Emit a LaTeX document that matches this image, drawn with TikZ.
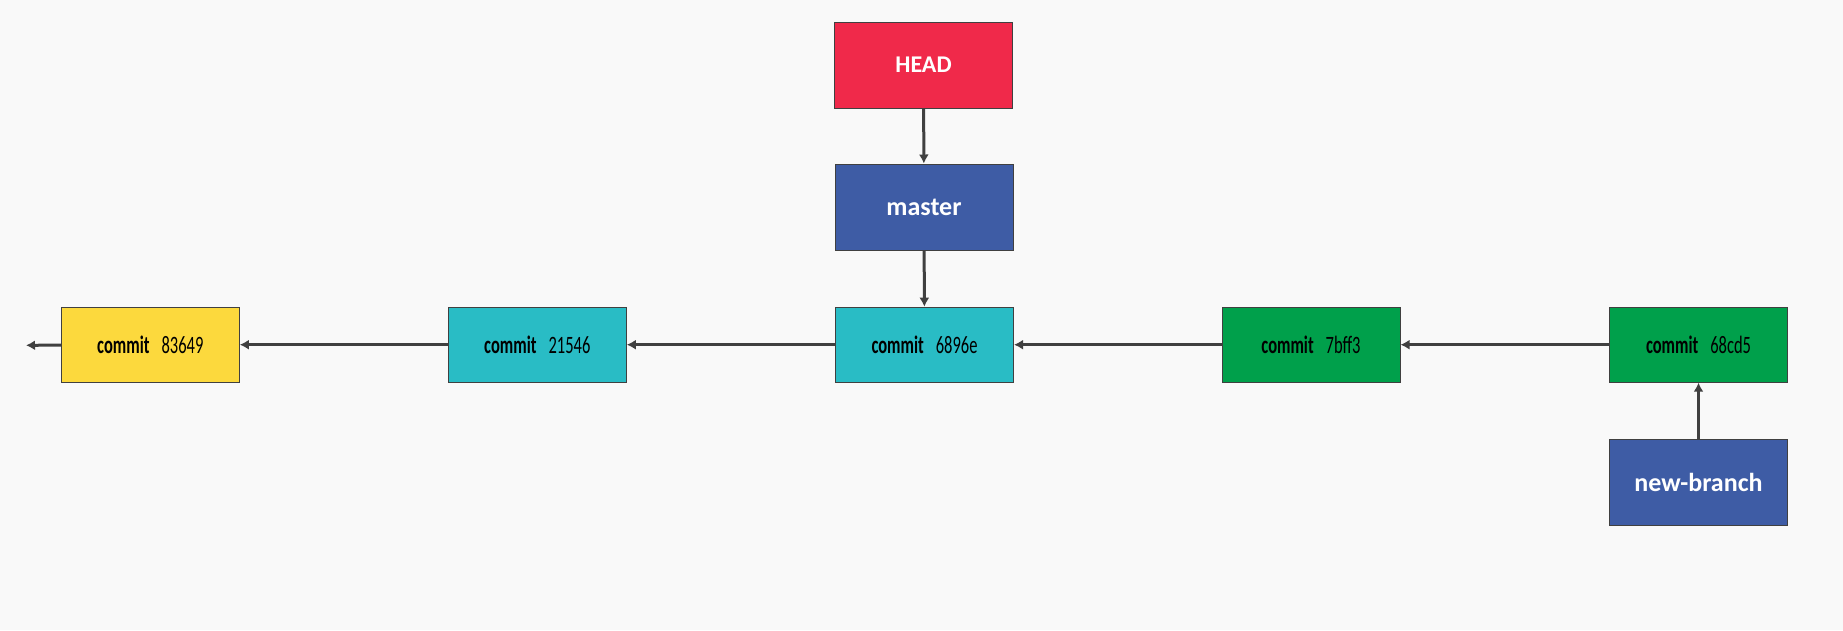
\documentclass[tikz,border=0pt]{standalone}
\usepackage{fontspec}
\setmainfont{Carlito}
\newfontfamily\condfont[FakeStretch=0.66]{Carlito}
\usetikzlibrary{arrows.meta}
\definecolor{bgc}{HTML}{F9F9F9}
\definecolor{headred}{HTML}{F0294A}
\definecolor{branchblue}{HTML}{3E5CA5}
\definecolor{tealc}{HTML}{29BCC5}
\definecolor{greenc}{HTML}{00A04B}
\definecolor{yellowc}{HTML}{FCD93D}
\definecolor{edgec}{HTML}{404040}
\tikzset{
  refbox/.style={draw=edgec, line width=1pt, minimum width=178pt, minimum height=86pt, inner sep=0pt,
    text=white, font=\fontsize{26}{30}\selectfont\bfseries},
  commitbox/.style={draw=edgec, line width=1pt, minimum width=178pt, minimum height=75pt, inner sep=0pt,
    text=black, font=\condfont\fontsize{25}{28}\selectfont},
  link/.style={draw=edgec, line width=3pt, -{Latex[length=9pt,width=10pt]}}
}
\newcommand{\cmlabel}[1]{{\bfseries commit}\hspace{12pt}#1\hspace{10pt}}
\begin{document}
\begin{tikzpicture}[x=1pt,y=-1pt]
\fill[bgc] (0,0) rectangle (1843,630);
\useasboundingbox (0,0) rectangle (1843,630);
\node[refbox, fill=headred, font=\fontsize{24}{28}\selectfont\bfseries] (head) at (923.5,65) {HEAD};
\node[refbox, fill=branchblue] (master) at (924,207) {master};
\node[commitbox, fill=tealc] (c6896e) at (924.5,344.7) {\cmlabel{6896e}};
\node[commitbox, fill=yellowc] (c83649) at (150.3,344.7) {\cmlabel{83649}};
\node[commitbox, fill=tealc] (c21546) at (537.3,344.7) {\cmlabel{21546}};
\node[commitbox, fill=greenc] (c7bff3) at (1311,344.7) {\cmlabel{7bff3}};
\node[commitbox, fill=greenc] (c68cd5) at (1698.5,344.7) {\cmlabel{68cd5}};
\node[refbox, fill=branchblue] (newbranch) at (1698.5,482.7) {new-branch};
\coordinate (tail) at (26,345.3);
\draw[link] (head) -- (master);
\draw[link] (master) -- (c6896e);
\draw[link] (c6896e) -- (c21546);
\draw[link] (c21546) -- (c83649);
\draw[link] (c83649) -- (tail);
\draw[link] (c7bff3) -- (c6896e);
\draw[link] (c68cd5) -- (c7bff3);
\draw[link] (newbranch) -- (c68cd5);
\end{tikzpicture}
\end{document}
